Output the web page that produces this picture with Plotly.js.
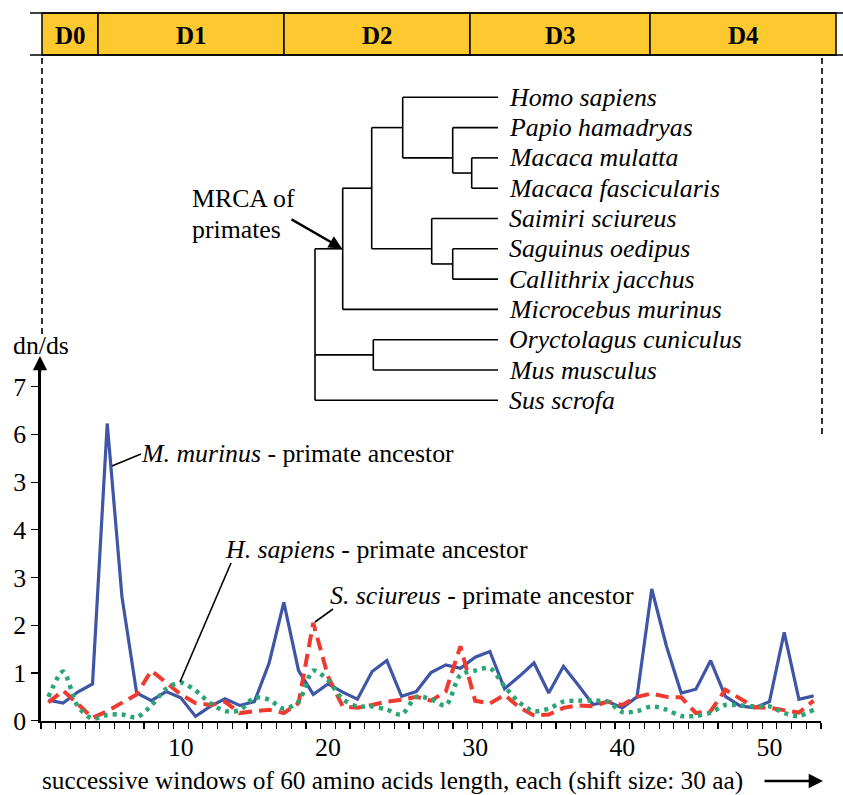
<!DOCTYPE html>
<html>
<head>
<meta charset="utf-8">
<script src="https://cdn.plot.ly/plotly-3.0.1.min.js"></script>
<style>html,body{margin:0;padding:0;background:#fff}#chart{width:843px;height:795px}</style>
</head>
<body>
<div id="chart"></div>
<script>
// ---------------- data ----------------
const windows = Array.from({length: 53}, (_, i) => i + 1);

const murinus = [0.43,0.37,0.6,0.77,6.23,2.6,0.58,0.42,0.61,0.48,0.09,0.3,0.46,0.32,0.4,1.21,2.48,1.05,0.55,0.77,0.6,0.45,1.03,1.26,0.51,0.61,1.01,1.17,1.1,1.33,1.45,0.67,0.93,1.21,0.58,1.14,0.75,0.34,0.4,0.27,0.5,2.76,1.56,0.58,0.66,1.26,0.51,0.31,0.27,0.4,1.85,0.45,0.52];
const sciureus = [0.38,0.63,0.35,0.06,0.2,0.37,0.55,1.05,0.79,0.55,0.37,0.33,0.4,0.16,0.2,0.23,0.16,0.37,2.05,0.93,0.3,0.27,0.33,0.4,0.44,0.5,0.42,0.61,1.56,0.42,0.36,0.54,0.28,0.11,0.13,0.27,0.32,0.3,0.4,0.33,0.5,0.57,0.5,0.49,0.16,0.2,0.65,0.46,0.28,0.27,0.21,0.17,0.42];
const sapiens = [0.5,1.03,0.3,0.04,0.12,0.13,0.07,0.32,0.67,0.8,0.63,0.37,0.2,0.22,0.48,0.44,0.25,0.4,1.05,0.85,0.45,0.3,0.3,0.23,0.13,0.5,0.45,0.32,0.96,1.05,1.1,0.72,0.38,0.2,0.25,0.4,0.42,0.42,0.4,0.18,0.2,0.3,0.23,0.1,0.1,0.17,0.33,0.32,0.3,0.3,0.16,0.1,0.23];

const yTickVals = [0,1,2,3,4,5,6,7];
const yTickText = ['0','1','2','3','4','3','6','7'];
const xTickVals = [10,20,30,40,50];

const domainNames = ['D0','D1','D2','D3','D4'];

const leaves = ['Homo sapiens','Papio hamadryas','Macaca mulatta','Macaca fascicularis',
  'Saimiri sciureus','Saguinus oedipus','Callithrix jacchus','Microcebus murinus',
  'Oryctolagus cuniculus','Mus musculus','Sus scrofa'];

// ---------------- layout helpers (pixels -> paper) ----------------
const W = 843, H = 795;
const X = v => v / W;
const Y = v => 1 - v / H;
const FONT = '"Liberation Serif", "Times New Roman", serif';
const FS = 25.8;

// domain bar geometry
const barEdges = [42, 98, 284, 470, 650, 836];
const barTop = 13, barBot = 55;

// tree geometry
const leafY0 = 97.3, leafStep = 30.3, leafX = 498;
// internal nodes: children (leaf index or node name), x position, y rule
const nodes = {
  mac:  {ch: [2, 3], x: 471.7, rule: 'mid'},
  pap:  {ch: [1, 'mac'], x: 452.7, rule: 'mean'},
  hom:  {ch: [0, 'pap'], x: 402.7, rule: 'mid'},
  sag:  {ch: [5, 6], x: 452.7, rule: 'mid'},
  sai:  {ch: [4, 'sag'], x: 431.7, rule: 'mean'},
  ant:  {ch: ['hom', 'sai'], x: 371.7, rule: 'mid'},
  pri:  {ch: ['ant', 7], x: 342.7, rule: 'mid'},
  gli:  {ch: [8, 9], x: 373.3, rule: 'mid'},
  root: {ch: ['pri', 'gli', 10], x: 315, rule: 'mid'}
};

const shapes = [];
const annotations = [];
const black = '#000';

// --- domain bar ---
for (let i = 0; i < domainNames.length; i++) {
  shapes.push({type: 'rect', xref: 'paper', yref: 'paper',
    x0: X(barEdges[i]), x1: X(barEdges[i + 1]), y0: Y(barBot), y1: Y(barTop),
    fillcolor: '#FDC92F', line: {color: black, width: 1.5}});
  annotations.push({xref: 'paper', yref: 'paper', x: X((barEdges[i] + barEdges[i + 1]) / 2), y: Y(36),
    text: '<b>' + domainNames[i] + '</b>', showarrow: false, font: {family: FONT, size: 25, color: black},
    xanchor: 'center', yanchor: 'middle'});
}
[barTop, barBot].forEach(yy => shapes.push({type: 'line', xref: 'paper', yref: 'paper',
  x0: X(30), x1: X(843), y0: Y(yy), y1: Y(yy), line: {color: black, width: 1.5}}));

// dashed guide lines
shapes.push({type: 'line', xref: 'paper', yref: 'paper', x0: X(42), x1: X(42), y0: Y(58), y1: Y(335),
  line: {color: black, width: 1.6, dash: '6px,4px'}});
shapes.push({type: 'line', xref: 'paper', yref: 'paper', x0: X(822), x1: X(822), y0: Y(58), y1: Y(435),
  line: {color: black, width: 1.6, dash: '6px,4px'}});

// --- tree ---
const leafYs = leaves.map((_, i) => leafY0 + i * leafStep);
const nodeY = {};
function leafList(c) {
  if (typeof c === 'number') return [c];
  return nodes[c].ch.flatMap(leafList);
}
function yOf(c) {
  if (typeof c === 'number') return leafYs[c];
  if (nodeY[c] !== undefined) return nodeY[c];
  const n = nodes[c];
  const ys = n.ch.map(yOf);
  let y;
  if (n.rule === 'mean') {
    const ls = leafList(c).map(i => leafYs[i]);
    y = ls.reduce((a, b) => a + b, 0) / ls.length;
  } else {
    y = (Math.min(...ys) + Math.max(...ys)) / 2;
  }
  nodeY[c] = y;
  return y;
}
function xOf(c) { return typeof c === 'number' ? leafX : nodes[c].x; }
const tline = (x0, y0, x1, y1) => shapes.push({type: 'line', xref: 'paper', yref: 'paper',
  x0: X(x0), x1: X(x1), y0: Y(y0), y1: Y(y1), line: {color: black, width: 1.6}});
Object.keys(nodes).forEach(name => {
  const n = nodes[name];
  const ys = n.ch.map(yOf);
  tline(n.x, Math.min(...ys), n.x, Math.max(...ys));
  n.ch.forEach(c => tline(n.x, yOf(c), xOf(c), yOf(c)));
});
leaves.forEach((name, i) => annotations.push({xref: 'paper', yref: 'paper', x: X(leafX + 9), y: Y(leafYs[i]),
  text: '<i>' + name + '</i>', showarrow: false, xanchor: 'left', yanchor: 'middle',
  font: {family: FONT, size: FS, color: black}}));

// MRCA label + arrow
annotations.push({xref: 'paper', yref: 'paper', x: X(190), y: Y(199), text: 'MRCA of', showarrow: false,
  xanchor: 'left', yanchor: 'middle', font: {family: FONT, size: FS, color: black}});
annotations.push({xref: 'paper', yref: 'paper', x: X(190), y: Y(230), text: 'primates', showarrow: false,
  xanchor: 'left', yanchor: 'middle', font: {family: FONT, size: FS, color: black}});
annotations.push({xref: 'paper', yref: 'paper', x: X(342), y: Y(248.5), ax: -52, ay: -30, axref: 'pixel', ayref: 'pixel',
  text: '', showarrow: true, arrowhead: 2, arrowsize: 1.1, arrowwidth: 2.4, arrowcolor: black});

// --- chart labels with leader lines ---
const lab = (x, y, html) => annotations.push({xref: 'paper', yref: 'paper', x: X(x), y: Y(y), text: html,
  showarrow: false, xanchor: 'left', yanchor: 'middle', font: {family: FONT, size: FS, color: black}});
lab(139, 453, '<i>M. murinus</i> - primate ancestor');
lab(223, 549, '<i>H. sapiens</i> - primate ancestor');
lab(328, 595, '<i>S. sciureus</i> - primate ancestor');
tline(112, 466, 141, 454);
tline(231, 563, 180, 682);
tline(333, 609, 315, 622);

// axis arrows
annotations.push({xref: 'paper', yref: 'paper', x: X(40), y: Y(356), ax: 0, ay: 18, axref: 'pixel', ayref: 'pixel',
  text: '', showarrow: true, arrowhead: 2, arrowsize: 1.1, arrowwidth: 2.6, arrowcolor: black});
annotations.push({xref: 'paper', yref: 'paper', x: X(823), y: Y(781), ax: -60, ay: 0, axref: 'pixel', ayref: 'pixel',
  text: '', showarrow: true, arrowhead: 2, arrowsize: 1.1, arrowwidth: 2.6, arrowcolor: black});
// y title, x title
annotations.push({xref: 'paper', yref: 'paper', x: X(11), y: Y(345), text: 'dn/ds', showarrow: false,
  xanchor: 'left', yanchor: 'middle', font: {family: FONT, size: FS, color: black}});
annotations.push({xref: 'paper', yref: 'paper', x: X(40), y: Y(780),
  text: 'successive windows of 60 amino acids length, each (shift size: 30 aa)', showarrow: false,
  xanchor: 'left', yanchor: 'middle', font: {family: FONT, size: 25.3, color: black}});

// ---------------- traces ----------------
const traces = [
  {x: windows, y: murinus, type: 'scatter', mode: 'lines', name: 'M. murinus',
    line: {color: '#3F55A6', width: 3.2}},
  {x: windows, y: sciureus, type: 'scatter', mode: 'lines', name: 'S. sciureus',
    line: {color: '#EE3A2F', width: 4, dash: '13px,7px'}},
  {x: windows, y: sapiens, type: 'scatter', mode: 'lines', name: 'H. sapiens',
    line: {color: '#2BA573', width: 4.5, dash: '4px,5px', shape: 'spline', smoothing: 0.8}}
];

const y0px = 720.7, unit = 47.71, yTopPx = 367;
const layout = {
  width: W, height: H,
  margin: {l: 0, r: 0, t: 0, b: 0},
  paper_bgcolor: '#fff', plot_bgcolor: '#fff',
  showlegend: false,
  font: {family: FONT, size: FS, color: black},
  xaxis: {
    domain: [X(41), X(821)], range: [0.5, 53.5],
    showgrid: false, zeroline: false,
    showline: true, linecolor: black, linewidth: 2.6,
    tickmode: 'array', tickvals: xTickVals, ticktext: xTickVals.map(String),
    ticks: '', ticklabelstandoff: 2,
    tickfont: {family: FONT, size: FS, color: black},
    minor: {tickmode: 'array', tickvals: Array.from({length: 54}, (_, i) => i + 0.5),
      ticks: 'outside', ticklen: 6, tickwidth: 1.2, tickcolor: black, showgrid: false}
  },
  yaxis: {
    domain: [1 - y0px / H, Y(yTopPx)], range: [0, (y0px - yTopPx) / unit],
    showgrid: false, zeroline: false,
    showline: true, linecolor: black, linewidth: 2.6,
    tickmode: 'array', tickvals: yTickVals, ticktext: yTickText,
    ticks: 'outside', ticklen: 7, tickwidth: 1.2, tickcolor: black,
    tickfont: {family: FONT, size: FS, color: black}
  },
  shapes: shapes,
  annotations: annotations
};

Plotly.newPlot('chart', traces, layout, {staticPlot: true, displayModeBar: false});
</script>
</body>
</html>
